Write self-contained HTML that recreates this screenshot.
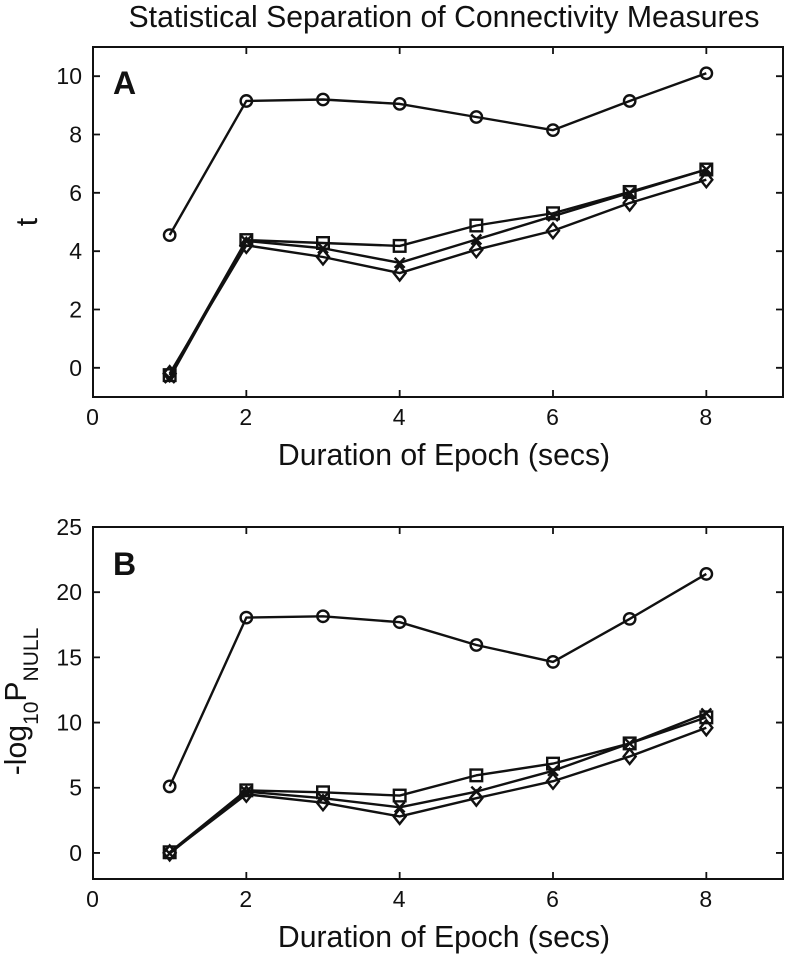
<!DOCTYPE html>
<html>
<head>
<meta charset="utf-8">
<title>Statistical Separation of Connectivity Measures</title>
<style>
html,body{margin:0;padding:0;background:#fff;}
svg{display:block;}
text{font-family:"Liberation Sans",sans-serif;fill:#111;}
</style>
</head>
<body>
<svg id="figure" width="786" height="954" viewBox="0 0 786 954" xmlns="http://www.w3.org/2000/svg">
<text x="444" y="27" font-size="30.2" text-anchor="middle">Statistical Separation of Connectivity Measures</text>
<text x="444" y="465" font-size="30.2" text-anchor="middle">Duration of Epoch (secs)</text>
<text x="444" y="947" font-size="30.2" text-anchor="middle">Duration of Epoch (secs)</text>
<text transform="translate(37,222) rotate(-90)" font-size="30.2" text-anchor="middle">t</text>
<text transform="translate(26,701.5) rotate(-90)" font-size="30.2" text-anchor="middle">-log<tspan font-size="21" dy="12">10</tspan><tspan dy="-12">P</tspan><tspan font-size="21" dy="12">NULL</tspan></text>
<text x="113" y="94" font-size="32" font-weight="bold">A</text>
<text x="113" y="575" font-size="32" font-weight="bold">B</text>
</svg>
<script>
var durations = [1, 2, 3, 4, 5, 6, 7, 8];
var xTicks = [0, 2, 4, 6, 8];
var yTicksA = [0, 2, 4, 6, 8, 10];
var yTicksB = [0, 5, 10, 15, 20, 25];
var circleA = [4.55, 9.15, 9.2, 9.05, 8.6, 8.15, 9.15, 10.1];
var squareA = [-0.25, 4.38, 4.28, 4.18, 4.88, 5.3, 6.03, 6.8];
var crossA = [-0.35, 4.35, 4.1, 3.6, 4.4, 5.2, 6.0, 6.8];
var diamondA = [-0.2, 4.2, 3.8, 3.25, 4.05, 4.7, 5.65, 6.45];
var circleB = [5.1, 18.05, 18.15, 17.7, 15.95, 14.65, 17.95, 21.4];
var squareB = [0.05, 4.8, 4.65, 4.4, 5.95, 6.85, 8.4, 10.4];
var crossB = [-0.05, 4.7, 4.2, 3.5, 4.7, 6.3, 8.4, 10.7];
var diamondB = [0, 4.5, 3.85, 2.8, 4.2, 5.5, 7.4, 9.6];

var svg = document.getElementById('figure');
var NS = 'http://www.w3.org/2000/svg';
var INK = '#111';

function make(tag, attrs) {
  var el = document.createElementNS(NS, tag);
  for (var k in attrs) el.setAttribute(k, attrs[k]);
  svg.appendChild(el);
  return el;
}

function drawMarker(kind, cx, cy, name) {
  var s = { fill: 'none', stroke: INK, 'stroke-width': 2.4 };
  var el;
  if (kind === 'circle') {
    s.cx = cx; s.cy = cy; s.r = 5.7;
    el = make('circle', s);
  } else if (kind === 'square') {
    s.x = cx - 5.8; s.y = cy - 5.8; s.width = 11.6; s.height = 11.6;
    el = make('rect', s);
  } else if (kind === 'cross') {
    s.d = 'M' + (cx - 5) + ' ' + (cy - 5) + 'L' + (cx + 5) + ' ' + (cy + 5) + 'M' + (cx - 5) + ' ' + (cy + 5) + 'L' + (cx + 5) + ' ' + (cy - 5);
    el = make('path', s);
  } else {
    s.d = 'M' + cx + ' ' + (cy - 7.5) + 'L' + (cx + 6) + ' ' + cy + 'L' + cx + ' ' + (cy + 7.5) + 'L' + (cx - 6) + ' ' + cy + 'Z';
    el = make('path', s);
  }
  
  
}

function drawPanel(prefix, box, yMin, yMax, yTicks, series) {
  var xMin = 0, xMax = 9;
  function sx(v) { return box.left + (v - xMin) / (xMax - xMin) * (box.right - box.left); }
  function sy(v) { return box.bottom - (v - yMin) / (yMax - yMin) * (box.bottom - box.top); }

  xTicks.forEach(function (t) {
    var x = sx(t);
    var tb = make('path', { d: 'M' + x + ' ' + box.bottom + 'v-7M' + x + ' ' + box.top + 'v7', stroke: INK, 'stroke-width': 1.8, fill: 'none' });
    
    
    var lb = make('text', { x: x - 0.5, y: box.bottom + 28, 'font-size': 23, 'text-anchor': 'middle' });
    lb.textContent = t;
    
    
  });

  yTicks.forEach(function (t) {
    var y = sy(t);
    var tb = make('path', { d: 'M' + box.left + ' ' + y + 'h7M' + box.right + ' ' + y + 'h-7', stroke: INK, 'stroke-width': 1.8, fill: 'none' });
    
    
    var lb = make('text', { x: box.left - 11, y: y + 8, 'font-size': 23, 'text-anchor': 'end' });
    lb.textContent = t;
    
    
  });

  series.forEach(function (sr) {
    var pts = durations.map(function (d, i) { return sx(d).toFixed(2) + ',' + sy(sr.values[i]).toFixed(2); }).join(' ');
    var line = make('polyline', { points: pts, fill: 'none', stroke: INK, 'stroke-width': 2.4, 'stroke-linejoin': 'round' });
    
    
    durations.forEach(function (d, i) {
      drawMarker(sr.kind, sx(d), sy(sr.values[i]), prefix + '-' + sr.kind + '-marker');
    });
  });

  var frame = make('rect', { x: box.left, y: box.top, width: box.right - box.left, height: box.bottom - box.top, fill: 'none', stroke: INK, 'stroke-width': 2 });
  
  
}

drawPanel('panel-a', { left: 93, right: 783, top: 47, bottom: 397 }, -1, 11, yTicksA, [
  { kind: 'circle', values: circleA },
  { kind: 'square', values: squareA },
  { kind: 'cross', values: crossA },
  { kind: 'diamond', values: diamondA }
]);
drawPanel('panel-b', { left: 93, right: 783, top: 527, bottom: 879 }, -2, 25, yTicksB, [
  { kind: 'circle', values: circleB },
  { kind: 'square', values: squareB },
  { kind: 'cross', values: crossB },
  { kind: 'diamond', values: diamondB }
]);
</script>
</body>
</html>
